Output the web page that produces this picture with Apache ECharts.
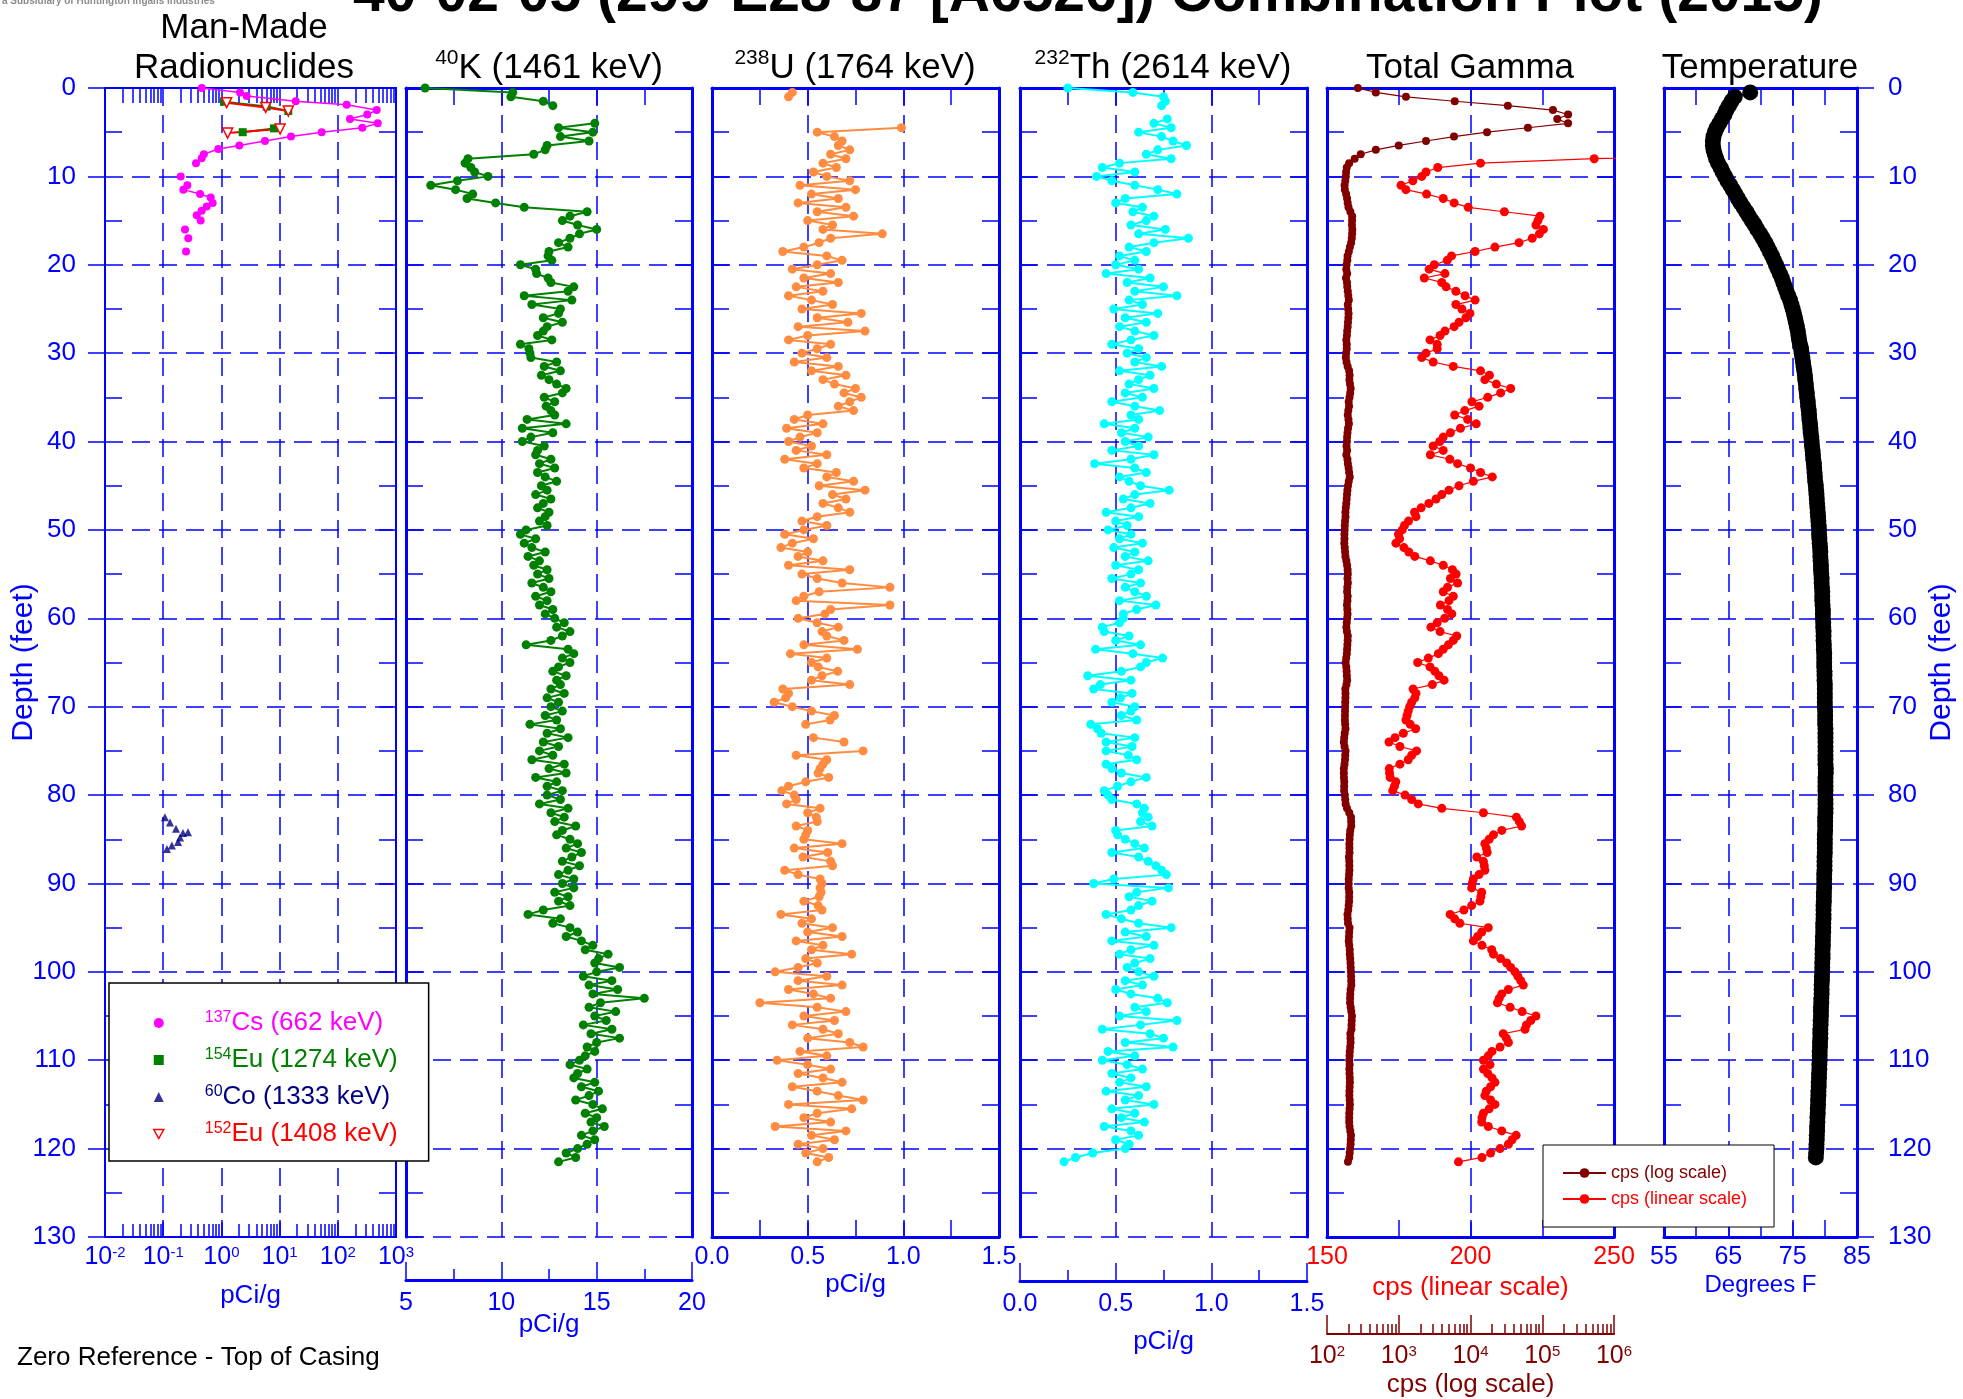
<!DOCTYPE html>
<html>
<head>
<meta charset="utf-8">
<title>40-02-05 Combination Plot (2015)</title>
<script src="https://cdn.jsdelivr.net/npm/echarts@6/dist/echarts.min.js"></script>
<style>
  html, body { margin: 0; padding: 0; background: #fff; }
  #chart { width: 1963px; height: 1399px; }
</style>
</head>
<body>
<div id="chart"></div>
<script>
const FONT = 'Liberation Sans, Arial, sans-serif';
const BLUE = '#0000ff';
const RED = '#ff0000';
const DARKRED = '#800000';

const plotTitle = '40-02-05 (299-E28-87 [A6526]) Combination Plot (2015)';

// depth of each log reading (feet below top of casing)
const depthFt = [
  0, 0.5, 1, 1.5, 2, 2.5, 3, 3.5, 4, 4.5, 5, 5.5, 6, 6.5, 7, 7.5, 8, 8.5, 9, 9.5,
  10, 10.5, 11, 11.5, 12, 12.5, 13, 13.5, 14, 14.5, 15, 15.5, 16, 16.5, 17, 17.5, 18, 18.5, 19, 19.5,
  20, 20.5, 21, 21.5, 22, 22.5, 23, 23.5, 24, 24.5, 25, 25.5, 26, 26.5, 27, 27.5, 28, 28.5, 29, 29.5,
  30, 30.5, 31, 31.5, 32, 32.5, 33, 33.5, 34, 34.5, 35, 35.5, 36, 36.5, 37, 37.5, 38, 38.5, 39, 39.5,
  40, 40.5, 41, 41.5, 42, 42.5, 43, 43.5, 44, 44.5, 45, 45.5, 46, 46.5, 47, 47.5, 48, 48.5, 49, 49.5,
  50, 50.5, 51, 51.5, 52, 52.5, 53, 53.5, 54, 54.5, 55, 55.5, 56, 56.5, 57, 57.5, 58, 58.5, 59, 59.5,
  60, 60.5, 61, 61.5, 62, 62.5, 63, 63.5, 64, 64.5, 65, 65.5, 66, 66.5, 67, 67.5, 68, 68.5, 69, 69.5,
  70, 70.5, 71, 71.5, 72, 72.5, 73, 73.5, 74, 74.5, 75, 75.5, 76, 76.5, 77, 77.5, 78, 78.5, 79, 79.5,
  80, 80.5, 81, 81.5, 82, 82.5, 83, 83.5, 84, 84.5, 85, 85.5, 86, 86.5, 87, 87.5, 88, 88.5, 89, 89.5,
  90, 90.5, 91, 91.5, 92, 92.5, 93, 93.5, 94, 94.5, 95, 95.5, 96, 96.5, 97, 97.5, 98, 98.5, 99, 99.5,
  100, 100.5, 101, 101.5, 102, 102.5, 103, 103.5, 104, 104.5, 105, 105.5, 106, 106.5, 107, 107.5, 108, 108.5, 109, 109.5,
  110, 110.5, 111, 111.5, 112, 112.5, 113, 113.5, 114, 114.5, 115, 115.5, 116, 116.5, 117, 117.5, 118, 118.5, 119, 119.5,
  120, 120.5, 121, 121.5
];

// 40K, pCi/g
const k40 = [
  6.0, 10.6, 10.5, 12.2, 12.7, null, null, null, 14.9, 13.0, 14.8, 13.1, 14.6, 12.4, 12.3, 11.7, 8.25, 8.1, 8.4, 8.6,
  9.3, 7.7, 6.3, 7.6, 8.5, 8.2, 9.7, 11.2, 14.5, 13.6, 13.2, 14.0, 15.0, 14.1, 13.6, 13.0, 13.5, 12.5, 12.45, 12.65,
  11.0, 11.8, 11.85, 12.45, 12.6, 13.8, 13.5, 11.2, 13.7, 11.6, 13.1, 13.0, 12.2, 13.2, 12.4, 12.2, 11.9, 12.65, 11.0, 11.45,
  11.5, 11.55, 12.9, 12.25, 13.1, 12.1, 12.5, 12.9, 13.4, 13.2, 12.25, 12.8, 12.35, 12.6, 12.8, 11.35, 13.4, 11.1, 12.7, 11.55,
  11.1, 12.25, 11.9, 11.8, 12.6, 12.0, 12.8, 11.9, 12.3, 12.9, 12.1, 12.4, 11.8, 12.6, 12.2, 11.9, 12.5, 12.3, 12.0, 12.4,
  11.3, 11.0, 11.8, 11.2, 11.6, 12.3, 11.4, 12.0, 11.7, 12.4, 11.9, 12.5, 11.6, 12.2, 12.6, 11.8, 12.4, 12.0, 12.7, 12.3,
  12.8, 13.3, 12.9, 13.6, 13.2, 12.6, 11.3, 13.5, 13.8, 13.2, 13.6, 13.0, 12.7, 13.4, 12.9, 13.1, 12.6, 13.3, 12.4, 13.0,
  12.6, 13.2, 12.3, 12.9, 11.5, 13.1, 12.4, 13.5, 12.2, 13.0, 12.0, 12.7, 11.6, 13.3, 12.5, 13.4, 11.8, 12.9, 12.4, 13.2,
  12.4, 13.1, 12.0, 13.5, 12.6, 13.3, 12.8, 13.9, 13.2, 12.9, 13.6, 14.0, 13.4, 14.2, 13.7, 13.2, 14.1, 13.5, 13.0, 13.8,
  13.2, 13.8, 12.8, 13.5, 13.0, 13.6, 12.2, 11.4, 13.1, 12.7, 13.6, 14.0, 13.4, 14.2, 14.8, 14.4, 15.6, 15.1, 14.9, 16.2,
  15.0, 14.3, 15.8, 14.6, 16.1, 14.8, 17.5, 15.2, 14.6, 16.0, 14.9, 15.5, 14.3, 15.8, 14.7, 16.2, 15.0, 14.5, 14.9, 14.4,
  14.1, 13.6, 14.5, 14.0, 13.8, 14.9, 14.2, 15.1, 14.6, 13.9, 14.8, 15.3, 14.4, 15.0, 14.7, 15.4, 14.8, 14.2, 14.9, 14.5,
  14.0, 13.4, 13.9, 13.0
];

// 238U, pCi/g
const u238 = [
  null, 0.42, 0.40, null, null, null, null, null, null, 0.99, 0.55, 0.64, 0.68, 0.66, 0.72, 0.62, 0.70, 0.58, 0.65, 0.53,
  0.60, 0.72, 0.46, 0.75, 0.52, 0.66, 0.45, 0.70, 0.55, 0.74, 0.50, 0.63, 0.58, 0.89, 0.62, 0.56, 0.48, 0.37, 0.60, 0.68,
  0.55, 0.42, 0.62, 0.48, 0.66, 0.44, 0.58, 0.40, 0.52, 0.63, 0.47, 0.78, 0.55, 0.71, 0.45, 0.80, 0.50, 0.40, 0.62, 0.55,
  0.47, 0.60, 0.43, 0.66, 0.52, 0.70, 0.58, 0.64, 0.75, 0.69, 0.78, 0.72, 0.66, 0.74, 0.50, 0.43, 0.58, 0.39, 0.55, 0.46,
  0.40, 0.52, 0.44, 0.60, 0.38, 0.55, 0.48, 0.65, 0.60, 0.74, 0.56, 0.80, 0.63, 0.70, 0.58, 0.66, 0.72, 0.55, 0.47, 0.60,
  0.48, 0.38, 0.53, 0.42, 0.36, 0.50, 0.45, 0.58, 0.40, 0.72, 0.47, 0.55, 0.68, 0.93, 0.56, 0.48, 0.44, 0.93, 0.62, 0.59,
  0.45, 0.55, 0.66, 0.575, 0.60, 0.69, 0.48, 0.76, 0.41, 0.60, 0.52, 0.555, 0.657, 0.575, 0.52, 0.72, 0.37, 0.40, 0.385, 0.325,
  0.42, 0.52, 0.64, 0.617, 0.49, null, null, 0.53, 0.69, null, 0.79, 0.44, 0.60, 0.58, 0.565, 0.555, 0.61, 0.49, 0.40, 0.365,
  0.43, 0.44, 0.39, 0.565, 0.50, 0.545, 0.55, 0.44, 0.50, 0.49, 0.48, 0.68, 0.43, 0.605, 0.476, 0.62, 0.63, 0.38, 0.45, 0.565,
  0.575, 0.565, 0.57, 0.56, 0.48, 0.555, 0.575, 0.36, 0.52, 0.47, 0.63, 0.50, 0.68, 0.44, 0.58, 0.52, 0.73, 0.49, 0.55, 0.45,
  0.33, 0.60, 0.45, 0.68, 0.40, 0.53, 0.62, 0.25, 0.55, 0.70, 0.48, 0.64, 0.42, 0.58, 0.66, 0.50, 0.72, 0.79, 0.46, 0.60,
  0.34, 0.50, 0.62, 0.45, 0.58, 0.68, 0.42, 0.55, 0.66, 0.79, 0.40, 0.73, 0.55, 0.48, 0.62, 0.33, 0.70, 0.52, 0.64, 0.45,
  0.58, 0.49, 0.61, 0.55
];

// 232Th, pCi/g
const th232 = [
  0.25, 0.59, 0.75, 0.76, 0.74, null, null, 0.77, 0.70, 0.79, 0.62, 0.74, 0.80, 0.87, 0.72, 0.66, 0.79, 0.52, 0.43, 0.60,
  0.40, 0.48, 0.60, 0.72, 0.82, 0.55, 0.50, 0.64, 0.59, 0.70, 0.66, 0.58, 0.76, 0.62, 0.88, 0.70, 0.57, 0.66, 0.52, 0.60,
  0.50, 0.62, 0.45, 0.68, 0.56, 0.75, 0.60, 0.82, 0.57, 0.64, 0.49, 0.72, 0.55, 0.66, 0.52, 0.60, 0.70, 0.58, 0.48, 0.62,
  0.56, 0.66, 0.60, 0.74, 0.52, 0.68, 0.62, 0.57, 0.70, 0.55, 0.64, 0.48, 0.60, 0.73, 0.58, 0.62, 0.44, 0.60, 0.53, 0.67,
  0.55, 0.62, 0.48, 0.70, 0.58, 0.39, 0.60, 0.66, 0.52, 0.57, 0.63, 0.78, 0.60, 0.54, 0.68, 0.58, 0.45, 0.62, 0.50, 0.56,
  0.46, 0.58, 0.52, 0.64, 0.49, 0.60, 0.55, 0.67, 0.50, 0.62, 0.58, 0.48, 0.63, 0.55, 0.60, 0.66, 0.52, 0.71, 0.61, 0.54,
  0.54, 0.52, 0.43, 0.44, 0.57, 0.50, 0.63, 0.395, 0.59, 0.745, 0.66, 0.63, 0.53, 0.354, 0.58, 0.42, 0.385, 0.586, 0.525, 0.48,
  0.60, 0.58, 0.53, 0.61, 0.37, 0.405, 0.425, 0.60, 0.45, 0.586, 0.45, 0.566, 0.61, 0.45, 0.48, 0.53, 0.66, 0.58, 0.51, 0.44,
  0.46, 0.48, 0.61, 0.65, 0.64, 0.67, 0.63, 0.69, 0.50, 0.51, 0.55, 0.60, 0.65, 0.48, 0.62, 0.67, 0.71, 0.74, 0.765, 0.49,
  0.385, 0.776, 0.61, 0.57, 0.69, 0.62, 0.58, 0.45, 0.53, 0.62, 0.79, 0.55, 0.66, 0.48, 0.70, 0.58, 0.52, 0.68, 0.60, 0.56,
  0.62, 0.70, 0.55, 0.64, 0.50, 0.58, 0.72, 0.77, 0.60, 0.66, 0.52, 0.82, 0.63, 0.43, 0.68, 0.75, 0.55, 0.80, 0.46, 0.60,
  0.43, 0.56, 0.64, 0.48, 0.58, 0.52, 0.66, 0.45, 0.62, 0.55, 0.70, 0.48, 0.60, 0.53, 0.65, 0.44, 0.58, 0.62, 0.50, 0.57,
  0.55, 0.38, 0.29, 0.23
];

// total gamma, counts per second (plotted on both a log and a linear scale)
const totalCps = [
  269, 479, 1259, 6030, 33100, 141000, 229000, 162000, 229000, 63100, 17000, 5890, 2400, 1000, 479, 295, 243.1, 203.5, 188.6, 184.5,
  183.0, 179.9, 175.8, 177.5, 184.7, 190.5, 194.3, 199.2, 211.8, 224.2, 223.5, 222.8, 225.4, 224.0, 221.5, 216.9, 208.5, 201.6, 193.4, 191.9,
  187.4, 185.6, 191.1, 183.9, 190.0, 191.5, 194.9, 198.1, 201.6, 194.9, 197.0, 199.8, 198.4, 196.0, 194.3, 191.1, 189.4, 185.9, 188.4, 188.4,
  184.5, 183.0, 187.0, 194.0, 203.5, 206.6, 205.0, 209.0, 214.0, 210.5, 206.0, 200.5, 203.0, 198.0, 194.5, 199.0, 202.0, 196.5, 193.0, 190.5,
  189.3, 187.0, 190.5, 186.0, 192.8, 195.5, 200.0, 203.5, 207.6, 201.0, 196.0, 192.5, 190.0, 188.0, 185.5, 182.8, 180.5, 181.0, 178.4, 177.0,
  176.2, 174.9, 175.3, 174.0, 176.8, 178.5, 180.6, 186.0, 190.5, 193.7, 195.0, 193.0, 195.5, 192.0, 190.5, 194.0, 192.5, 189.5, 192.0, 193.5,
  191.0, 188.4, 186.2, 189.4, 195.2, 194.0, 192.3, 190.5, 188.8, 185.3, 181.6, 185.9, 187.6, 189.0, 190.8, 186.7, 180.0, 181.0, 180.6, 179.5,
  178.8, 178.3, 177.9, 177.5, 179.0, 180.9, 176.6, 173.7, 171.6, 175.4, 181.2, 179.5, 178.3, 175.4, 171.7, 171.8, 172.0, 174.0, 173.5, 172.9,
  177.2, 179.5, 181.8, 190.0, 204.5, 216.0, 217.0, 217.8, 210.9, 208.0, 206.5, 205.0, 205.5, 205.8, 202.2, 204.5, 204.8, 205.0, 203.0, 201.0,
  200.6, 200.4, 203.9, 203.6, 203.3, 200.4, 197.7, 192.9, 194.5, 196.3, 206.2, 203.9, 202.5, 201.0, 204.0, 207.4, 208.0, 210.5, 212.6, 214.0,
  215.5, 216.5, 217.5, 218.4, 213.2, 210.9, 210.0, 209.4, 213.8, 218.0, 222.8, 221.0, 219.5, 219.0, 211.4, 212.5, 213.2, 210.3, 207.5, 206.2,
  204.5, 206.8, 204.5, 206.0, 207.5, 208.5, 207.0, 205.5, 205.0, 207.0, 208.5, 206.5, 204.5, 204.0, 203.9, 206.2, 210.9, 215.9, 214.5, 213.2,
  210.3, 207.0, 204.0, 195.8
];

// borehole temperature, degrees F
const tempF = [
  null, 68.4, 66.0, 65.5, 65.1, 64.7, 64.4, 64.0, 63.6, 63.2, 62.9, 62.7, 62.6, 62.6, 62.7, 62.9, 63.1, 63.4, 63.8, 64.1,
  64.5, 64.85, 65.3, 65.7, 66.1, 66.5, 66.9, 67.35, 67.8, 68.2, 68.65, 69.1, 69.5, 69.95, 70.35, 70.75, 71.1, 71.45, 71.8, 72.1,
  72.4, 72.7, 73.0, 73.3, 73.55, 73.8, 74.05, 74.3, 74.6, 74.8, 75.0, 75.2, 75.35, 75.5, 75.65, 75.8, 75.9, 76.0, 76.15, 76.3,
  76.4, 76.5, 76.6, 76.7, 76.8, 76.9, 76.95, 77.05, 77.1, 77.2, 77.25, 77.35, 77.4, 77.5, 77.55, 77.6, 77.7, 77.75, 77.8, 77.9,
  77.95, 78.0, 78.1, 78.15, 78.2, 78.3, 78.35, 78.4, 78.45, 78.5, 78.6, 78.65, 78.7, 78.75, 78.8, 78.85, 78.9, 78.95, 79.0, 79.05,
  79.1, 79.1, 79.15, 79.2, 79.25, 79.3, 79.3, 79.35, 79.4, 79.4, 79.45, 79.5, 79.5, 79.55, 79.6, 79.6, 79.6, 79.65, 79.7, 79.7,
  79.7, 79.75, 79.75, 79.8, 79.8, 79.8, 79.85, 79.85, 79.9, 79.9, 79.9, 79.9, 79.95, 79.95, 79.95, 80.0, 80.0, 80.0, 80.0, 80.0,
  80.0, 80.05, 80.05, 80.05, 80.05, 80.1, 80.1, 80.1, 80.1, 80.1, 80.1, 80.1, 80.1, 80.1, 80.15, 80.15, 80.1, 80.1, 80.1, 80.1,
  80.1, 80.1, 80.1, 80.1, 80.1, 80.05, 80.05, 80.05, 80.05, 80.0, 80.0, 80.0, 80.0, 80.0, 79.95, 79.95, 79.95, 79.95, 79.9, 79.9,
  79.9, 79.9, 79.85, 79.85, 79.85, 79.8, 79.8, 79.8, 79.8, 79.75, 79.75, 79.75, 79.7, 79.7, 79.7, 79.65, 79.65, 79.65, 79.6, 79.6,
  79.6, 79.55, 79.55, 79.5, 79.5, 79.5, 79.45, 79.45, 79.4, 79.4, 79.4, 79.35, 79.35, 79.3, 79.3, 79.3, 79.25, 79.25, 79.2, 79.2,
  79.2, 79.15, 79.15, 79.1, 79.1, 79.05, 79.05, 79.0, 79.0, 78.95, 78.95, 78.9, 78.9, 78.85, 78.85, 78.8, 78.8, 78.75, 78.75, 78.7,
  78.7, 78.65, 78.6, null
];

// man-made radionuclides (pCi/g) with their own depths
const cs137Depth = [0, 0.5, 0.9, 1.5, 1.9, 2.5, 3.0, 3.5, 4.0, 4.5, 5.0, 5.5, 6.0, 6.5, 6.9, 7.5, 7.95, 8.5, 9.2, 10.0, 10.5, 11.0, 11.5, 12.0, 12.4, 13.0, 13.4, 13.9, 14.4, 15.0, 15.5, 16.0, 16.5, 17.0, 17.7, 18.5];
const cs137Value = [0.46, 2.09, 2.72, 18.9, 142, 466, 321, 162, 485, 264, 52.8, 15.7, 5.6, 2.03, 0.885, 0.50, 0.458, 0.366, null, 0.20, null, 0.26, 0.222, 0.43, 0.655, 0.708, 0.56, 0.458, 0.377, 0.44, null, 0.237, null, 0.27, null, 0.247];
const eu154Depth = [1.55, 2.1, 2.6, 3.5, 4.57, 5.0];
const eu154Value = [1.11, 6.0, 14.1, null, 8.0, 2.32];
const co60Depth = [82.5, 83.1, 83.8, 84.2, 84.3, 84.8, 85.3, 85.7, 86.1];
const co60Value = [0.107, 0.131, 0.166, 0.267, 0.219, 0.195, 0.18, 0.141, 0.116];
const eu152Depth = [1.66, 2.2, 2.6, 3.5, 4.64, 5.1];
const eu152Value = [1.23, 5.77, 14.1, null, 10.2, 1.28];

const nuclideLabels = {
  Cs137: '{sup|137}Cs (662 keV)',
  Eu154: '{sup|154}Eu (1274 keV)',
  Co60: '{sup|60}Co (1333 keV)',
  Eu152: '{sup|152}Eu (1408 keV)'
};

// tick helpers
const minorDepthTicks = [5, 15, 25, 35, 45, 55, 65, 75, 85, 95, 105, 115, 125];
const logMinorMultipliers = [2, 3, 4, 5, 6, 7, 8, 9];
const manMadeDecades = [-2, -1, 0, 1, 2];
const cpsDecades = [2, 3, 4, 5];
function logMinorTicks(decades) {
  return decades.flatMap(d => logMinorMultipliers.map(m => d + Math.log10(m)));
}

const panels = [
  { left: 105, width: 291 },
  { left: 406, width: 286 },
  { left: 712, width: 287 },
  { left: 1020, width: 287 },
  { left: 1327, width: 287 },
  { left: 1664, width: 193 }
];

function track(values, depths) {
  return depths.map((d, i) => [values[i] == null ? '-' : values[i], d]);
}

const tickStyle = { color: BLUE, width: 1.5 };
const dash = { color: BLUE, width: 1.5, type: [18, 9] };
const noLine = { show: false, onZero: false };

function depthAxis(gridIndex, position, extra) {
  return Object.assign({
    type: 'value', gridIndex, position, inverse: true, min: 0, max: 130, interval: 10,
    axisLine: { show: true, onZero: false, lineStyle: { color: BLUE, width: 3 } },
    axisTick: { show: true, inside: true, length: 17, lineStyle: tickStyle },
    minorTick: { show: true, splitNumber: 2, length: 17, lineStyle: tickStyle },
    axisLabel: { show: false },
    splitLine: { show: false }
  }, extra);
}

function xAxisOf(gridIndex, position, min, max, interval, extra) {
  const ax = {
    type: 'value', gridIndex, position, min, max, offset: 0,
    axisLine: { show: true, onZero: false, lineStyle: { color: BLUE, width: 3 } },
    axisTick: { show: true, inside: true, length: 17, lineStyle: tickStyle },
    minorTick: { show: true, splitNumber: 2, length: 17, lineStyle: tickStyle },
    axisLabel: { show: false },
    splitLine: { show: false }
  };
  if (interval != null) ax.interval = interval;
  return Object.assign(ax, extra);
}

const xLabel = o => Object.assign({ show: true, fontSize: 25, color: BLUE, fontFamily: FONT, margin: 8 }, o);
const xName = (name, gap, o) => ({
  name, nameLocation: 'middle', nameGap: gap, nameMoveOverlap: false,
  nameTextStyle: Object.assign({ fontSize: 26, color: BLUE, fontFamily: FONT }, o)
});
const powerLabel = v => '10{sup|' + Math.round(Math.log10(v)) + '}';
const fixed1 = v => v.toFixed(1);

const depthLabel = { show: true, fontSize: 26, color: BLUE, fontFamily: FONT };
const depthName = {
  name: 'Depth (feet)', nameLocation: 'middle', nameRotate: 90, nameMoveOverlap: false,
  nameTextStyle: { fontSize: 30, color: BLUE, fontFamily: FONT }
};

const yAxis = [
  depthAxis(0, 'left', Object.assign({
    axisLine: { show: true, onZero: false, lineStyle: { color: BLUE, width: 2 } },
    axisTick: { show: true, inside: false, length: 17, lineStyle: tickStyle },
    minorTick: { show: false },
    axisLabel: Object.assign({ margin: 29 }, depthLabel),
    splitLine: { show: true, lineStyle: dash }
  }, depthName, { nameGap: 66 })),
  depthAxis(0, 'right', { axisLine: { show: true, onZero: false, lineStyle: { color: BLUE, width: 2 } } }),
  depthAxis(0, 'left', {
    axisLine: noLine,
    axisTick: { show: true, inside: true, length: 17, lineStyle: tickStyle, customValues: minorDepthTicks },
    minorTick: { show: false }
  }),
  depthAxis(1, 'left', { splitLine: { show: true, lineStyle: dash } }),
  depthAxis(1, 'right'),
  depthAxis(2, 'left', { splitLine: { show: true, lineStyle: dash } }),
  depthAxis(2, 'right'),
  depthAxis(3, 'left', { splitLine: { show: true, lineStyle: dash } }),
  depthAxis(3, 'right'),
  depthAxis(4, 'left', { splitLine: { show: true, lineStyle: dash } }),
  depthAxis(4, 'right'),
  depthAxis(5, 'left', { splitLine: { show: true, lineStyle: dash } }),
  depthAxis(5, 'right', Object.assign({
    axisTick: { show: true, inside: false, length: 17, lineStyle: tickStyle },
    minorTick: { show: false },
    axisLabel: Object.assign({ margin: 31 }, depthLabel)
  }, depthName, { nameGap: 70 })),
  depthAxis(5, 'right', {
    axisLine: noLine,
    axisTick: { show: true, inside: true, length: 17, lineStyle: tickStyle, customValues: minorDepthTicks },
    minorTick: { show: false }
  })
];

const xAxis = [
  // 0: man-made, log scale
  Object.assign({
    type: 'log', logBase: 10, gridIndex: 0, position: 'bottom', min: 0.01, max: 1000,
    axisLine: { show: true, onZero: false, lineStyle: { color: BLUE, width: 2 } },
    axisTick: { show: true, inside: true, length: 17, lineStyle: tickStyle },
    minorTick: { show: false },
    axisLabel: xLabel({ formatter: powerLabel, rich: { sup: { fontSize: 15, color: BLUE, fontFamily: FONT, verticalAlign: 'top' } } }),
    splitLine: { show: true, lineStyle: dash }
  }, xName('pCi/g', 46)),
  // 1, 2: log minor ticks (exponent space)
  xAxisOf(0, 'top', -2, 3, null, {
    axisLine: { show: true, onZero: false, lineStyle: { color: BLUE, width: 2 } },
    axisTick: { show: true, inside: true, length: 15, lineStyle: tickStyle, customValues: logMinorTicks(manMadeDecades) },
    minorTick: { show: false }
  }),
  xAxisOf(0, 'bottom', -2, 3, null, {
    axisLine: noLine,
    axisTick: { show: true, inside: true, length: 13, lineStyle: tickStyle, customValues: logMinorTicks(manMadeDecades) },
    minorTick: { show: false }
  }),
  // 3, 4: 40K
  xAxisOf(1, 'bottom', 5, 20, 5, Object.assign({
    offset: 43,
    axisTick: { show: true, inside: true, length: 18, lineStyle: tickStyle },
    minorTick: { show: true, splitNumber: 2, length: 11, lineStyle: tickStyle },
    axisLabel: xLabel({ margin: 11 }),
    splitLine: { show: true, lineStyle: dash }
  }, xName('pCi/g', 32))),
  xAxisOf(1, 'top', 5, 20, 5),
  // 5, 6: 238U
  xAxisOf(2, 'bottom', 0, 1.5, 0.5, Object.assign({
    axisLabel: xLabel({ formatter: fixed1 }),
    splitLine: { show: true, lineStyle: dash }
  }, xName('pCi/g', 35))),
  xAxisOf(2, 'top', 0, 1.5, 0.5),
  // 7, 8: 232Th
  xAxisOf(3, 'bottom', 0, 1.5, 0.5, Object.assign({
    offset: 44,
    axisTick: { show: true, inside: true, length: 18, lineStyle: tickStyle },
    minorTick: { show: true, splitNumber: 2, length: 11, lineStyle: tickStyle },
    axisLabel: xLabel({ formatter: fixed1, margin: 11 }),
    splitLine: { show: true, lineStyle: dash }
  }, xName('pCi/g', 48))),
  xAxisOf(3, 'top', 0, 1.5, 0.5),
  // 9: total gamma linear
  xAxisOf(4, 'bottom', 150, 250, 50, Object.assign({
    axisLabel: xLabel({ color: RED }),
    splitLine: { show: true, lineStyle: dash }
  }, xName('cps (linear scale)', 38, { color: RED }))),
  // 10: total gamma log
  Object.assign({
    type: 'log', logBase: 10, gridIndex: 4, position: 'bottom', offset: 97, min: 100, max: 1000000,
    axisLine: { show: true, onZero: false, lineStyle: { color: DARKRED, width: 2 } },
    axisTick: { show: true, inside: true, length: 19, lineStyle: { color: DARKRED, width: 1.5 } },
    minorTick: { show: false },
    axisLabel: xLabel({ color: DARKRED, margin: 10, formatter: powerLabel, rich: { sup: { fontSize: 15, color: DARKRED, fontFamily: FONT, verticalAlign: 'top' } } }),
    splitLine: { show: false }
  }, xName('cps (log scale)', 38, { color: DARKRED })),
  // 11: log minor ticks for cps
  xAxisOf(4, 'bottom', 2, 6, null, {
    offset: 97,
    axisLine: noLine,
    axisTick: { show: true, inside: true, length: 10, lineStyle: { color: DARKRED, width: 1.5 }, customValues: logMinorTicks(cpsDecades) },
    minorTick: { show: false }
  }),
  // 12: total gamma top
  xAxisOf(4, 'top', 150, 250, 50),
  // 13, 14: temperature
  xAxisOf(5, 'bottom', 55, 85, 10, Object.assign({
    axisLabel: xLabel(),
    splitLine: { show: true, lineStyle: dash }
  }, xName('Degrees F', 36, { fontSize: 24 }))),
  xAxisOf(5, 'top', 55, 85, 10)
];

function panelTitle(cx, y, sup, main) {
  return {
    type: 'text', x: cx, y,
    style: {
      text: (sup ? '{sup|' + sup + '}' : '') + '{main|' + main + '}',
      rich: {
        sup: { fontSize: 21, fontFamily: FONT, fill: '#000', verticalAlign: 'top', lineHeight: 21 },
        main: { fontSize: 35, fontFamily: FONT, fill: '#000', lineHeight: 40 }
      },
      align: 'center', verticalAlign: 'middle', textAlign: 'center', textVerticalAlign: 'middle'
    }
  };
}
function plainText(x, y, text, size, weight, color, align) {
  return {
    type: 'text', x, y,
    style: {
      text, fontSize: size, fontWeight: weight, fontFamily: FONT, fill: color,
      align, verticalAlign: 'middle', textAlign: align, textVerticalAlign: 'middle'
    }
  };
}

const option = {
  animation: false,
  backgroundColor: '#fff',
  textStyle: { fontFamily: FONT },
  grid: panels.map(p => ({ left: p.left, width: p.width, top: 88, height: 1149, containLabel: false, outerBoundsMode: 'none', show: false })),
  xAxis,
  yAxis,
  legend: [
    {
      orient: 'vertical', left: 109, top: 983, padding: [27, 31, 14, 44], itemGap: 11,
      backgroundColor: '#fff', borderColor: '#000', borderWidth: 1.5, borderRadius: 0,
      itemWidth: 10, itemHeight: 10, selectedMode: false,
      data: [
        { name: 'Cs137', icon: 'circle', textStyle: { color: '#ff00ff' }, itemStyle: { borderWidth: 0 } },
        { name: 'Eu154', icon: 'rect', textStyle: { color: '#008000' }, itemStyle: { borderWidth: 0 } },
        { name: 'Co60', icon: 'triangle', textStyle: { color: '#000080' }, itemStyle: { borderWidth: 0 } },
        { name: 'Eu152', icon: 'path://M0,0L10,0L5,9Z', textStyle: { color: RED }, itemStyle: { color: '#fff', borderColor: RED, borderWidth: 1.5 } }
      ],
      formatter: name => '{gap| }' + nuclideLabels[name],
      textStyle: {
        fontSize: 26, fontFamily: FONT,
        rich: { gap: { width: 36 }, sup: { fontSize: 16, fontFamily: FONT, verticalAlign: 'top', lineHeight: 16 } }
      }
    },
    {
      orient: 'vertical', left: 1543, top: 1145, padding: [19, 27, 19, 19], itemGap: 8,
      backgroundColor: '#fff', borderColor: '#000', borderWidth: 1, borderRadius: 0,
      itemWidth: 43, itemHeight: 12, selectedMode: false,
      data: [
        { name: 'cps (log scale)', textStyle: { color: DARKRED } },
        { name: 'cps (linear scale)', textStyle: { color: RED } }
      ],
      textStyle: { fontSize: 18, fontFamily: FONT }
    }
  ],
  graphic: {
    elements: [
      plainText(2, 1, 'a Subsidiary of Huntington Ingalls Industries', 10, 'bold', '#8c8c8c', 'left'),
      plainText(1088, -5, plotTitle, 57, 'bold', '#000', 'center'),
      plainText(244, 28, 'Man-Made', 35, 'normal', '#000', 'center'),
      plainText(244, 68, 'Radionuclides', 35, 'normal', '#000', 'center'),
      panelTitle(549, 68, '40', 'K (1461 keV)'),
      panelTitle(855, 68, '238', 'U (1764 keV)'),
      panelTitle(1163, 68, '232', 'Th (2614 keV)'),
      panelTitle(1470, 68, null, 'Total Gamma'),
      panelTitle(1760, 68, null, 'Temperature'),
      plainText(17, 1358, 'Zero Reference - Top of Casing', 26, 'normal', '#000', 'left')
    ]
  },
  series: [
    {
      name: 'Cs137', type: 'line', xAxisIndex: 0, yAxisIndex: 0, data: track(cs137Value, cs137Depth),
      symbol: 'circle', symbolSize: 8, itemStyle: { color: '#ff00ff' }, lineStyle: { color: '#ff00ff', width: 1.5 }
    },
    {
      name: 'Eu154', type: 'line', xAxisIndex: 0, yAxisIndex: 0, data: track(eu154Value, eu154Depth),
      symbol: 'rect', symbolSize: 8, itemStyle: { color: '#008000' }, lineStyle: { color: '#008000', width: 2 }
    },
    {
      name: 'Co60', type: 'scatter', xAxisIndex: 0, yAxisIndex: 0, data: track(co60Value, co60Depth),
      symbol: 'triangle', symbolSize: 8, itemStyle: { color: '#000080' }
    },
    {
      name: 'Eu152', type: 'line', xAxisIndex: 0, yAxisIndex: 0, data: track(eu152Value, eu152Depth),
      symbol: 'triangle', symbolRotate: 180, symbolSize: 10,
      itemStyle: { color: '#fff', borderColor: RED, borderWidth: 1.5 }, lineStyle: { color: RED, width: 2 }
    },
    {
      name: 'K40', type: 'line', xAxisIndex: 3, yAxisIndex: 3, data: track(k40, depthFt),
      symbol: 'circle', symbolSize: 9, itemStyle: { color: '#008000' }, lineStyle: { color: '#008000', width: 2 }
    },
    {
      name: 'U238', type: 'line', xAxisIndex: 5, yAxisIndex: 5, data: track(u238, depthFt),
      symbol: 'circle', symbolSize: 9, itemStyle: { color: '#ff8c40' }, lineStyle: { color: '#ff8c40', width: 2 }
    },
    {
      name: 'Th232', type: 'line', xAxisIndex: 7, yAxisIndex: 7, data: track(th232, depthFt),
      symbol: 'circle', symbolSize: 9, itemStyle: { color: '#00ffff' }, lineStyle: { color: '#00ffff', width: 2 }
    },
    {
      name: 'cps (log scale)', type: 'line', xAxisIndex: 10, yAxisIndex: 9, data: track(totalCps, depthFt),
      symbol: 'circle', symbolSize: 8, itemStyle: { color: DARKRED }, lineStyle: { color: DARKRED, width: 1.2 }
    },
    {
      name: 'cps (linear scale)', type: 'line', xAxisIndex: 9, yAxisIndex: 9, data: track(totalCps, depthFt),
      symbol: 'circle', symbolSize: 9, itemStyle: { color: RED }, lineStyle: { color: RED, width: 1.2 }
    },
    {
      name: 'Temperature', type: 'line', xAxisIndex: 13, yAxisIndex: 11, data: track(tempF, depthFt),
      symbol: 'circle', symbolSize: 16, itemStyle: { color: '#000' }, lineStyle: { color: '#000', width: 1.5 }
    }
  ]
};

const chart = echarts.init(document.getElementById('chart'), null, { renderer: 'canvas' });
chart.setOption(option);
window.addEventListener('resize', () => chart.resize());
</script>
</body>
</html>
